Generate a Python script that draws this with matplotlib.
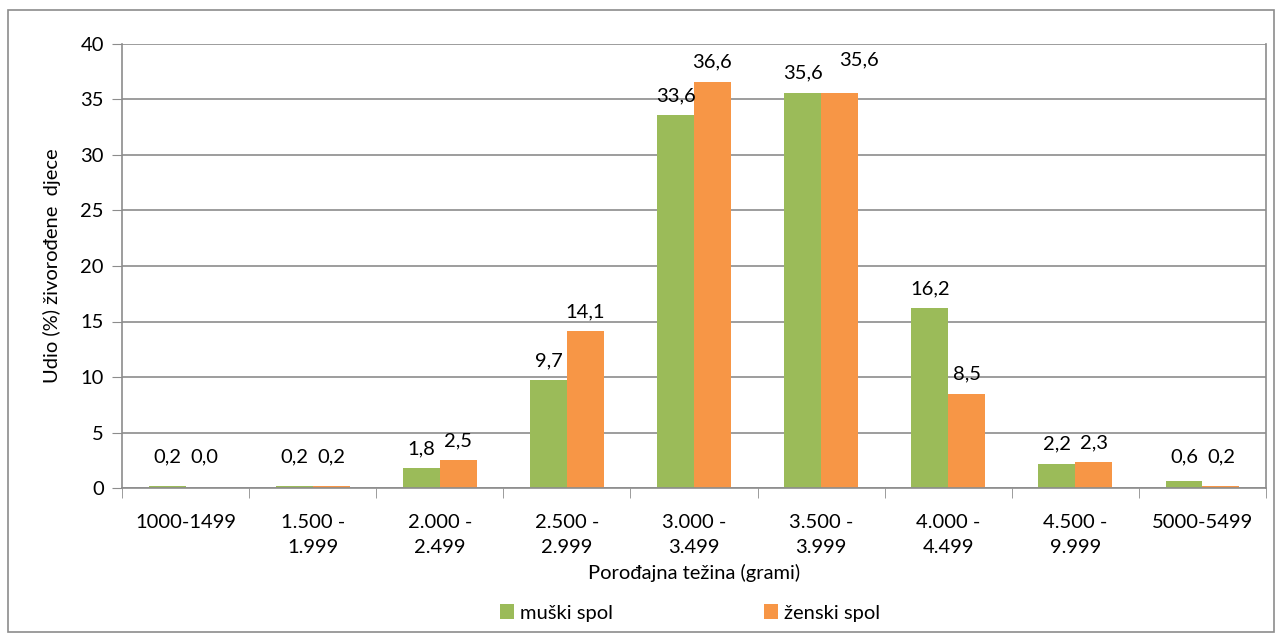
import matplotlib.pyplot as plt
import numpy as np
from matplotlib.patches import Rectangle

plt.rcParams['font.family'] = ['Lato', 'DejaVu Sans']

categories = ['1000-1499', '1.500 -\n1.999', '2.000 -\n2.499', '2.500 -\n2.999', '3.000 -\n3.499',
              '3.500 -\n3.999', '4.000 -\n4.499', '4.500 -\n9.999', '5000-5499']
muski = [0.2, 0.2, 1.8, 9.7, 33.6, 35.6, 16.2, 2.2, 0.6]
zenski = [0.0, 0.2, 2.5, 14.1, 36.6, 35.6, 8.5, 2.3, 0.2]

green = '#9BBB59'
orange = '#F79646'
grid_c = '#8C8C8C'
fs = 14.5

W, H = 1282, 640
fig = plt.figure(figsize=(W / 100, H / 100), dpi=100)
ax = fig.add_axes([122 / W, 1 - 488 / H, (1266 - 122) / W, (488 - 44) / H])

# outer frame like the excel chart area
fig.patches.append(Rectangle((8 / W, 8 / H), (1274 - 8) / W, (630 - 8) / H, transform=fig.transFigure,
                             fill=False, edgecolor='#8C8C8C', linewidth=1.2))

x = np.arange(len(categories))
w = 0.29
b1 = ax.bar(x - w / 2, muski, w, color=green, label='muški spol')
b2 = ax.bar(x + w / 2, zenski, w, color=orange, label='ženski spol')

def fmt(v):
    return f'{v:.1f}'.replace('.', ',')

for i in range(len(categories)):
    for r, v, other, side in [(b1[i], muski[i], zenski[i], 0), (b2[i], zenski[i], muski[i], 1)]:
        yy = max(v, 1.0)
        dx, dy = 0, 8
        # push apart labels of equally tall bars so they don't collide
        if side == 1 and v > 10 and abs(v - other) < 1.0:
            dx, dy = 14, 8 + (muski[i] - v + 1.2) * 8
        ax.annotate(fmt(v), (r.get_x() + r.get_width() / 2, yy), xytext=(dx, dy), textcoords='offset points',
                    ha='center', va='bottom', fontsize=fs)

ax.set_ylim(0, 40)
ax.set_xlim(-0.5, len(categories) - 0.5)
ax.set_yticks(range(0, 41, 5))
ax.yaxis.grid(True, color=grid_c, linewidth=1.2)
ax.set_axisbelow(True)
ax.tick_params(axis='y', length=7, color=grid_c, labelsize=fs, pad=6)

ax.set_xticks(x)
ax.set_xticklabels(categories, fontsize=fs, linespacing=1.55, va='top')
ax.tick_params(axis='x', which='major', length=0, pad=19)
ax.set_xticks(np.arange(-0.5, len(categories), 1), minor=True)
ax.tick_params(axis='x', which='minor', length=7, color=grid_c)

for s in ['left', 'bottom', 'right']:
    ax.spines[s].set_color(grid_c)
    ax.spines[s].set_linewidth(1.2)
ax.spines['top'].set_visible(False)

ax.set_ylabel('Udio (%) živorođene  djece', fontsize=fs, labelpad=14)
ax.set_xlabel('Porođajna težina (grami)', fontsize=fs, labelpad=6)

fig.legend(handles=[b1, b2], loc='center', bbox_to_anchor=(690 / W, 1 - 613 / H), ncol=2, frameon=False,
           fontsize=fs, handlelength=0.7, handleheight=0.7, handletextpad=0.3, columnspacing=7.5)

fig.savefig('out.png', dpi=100)
